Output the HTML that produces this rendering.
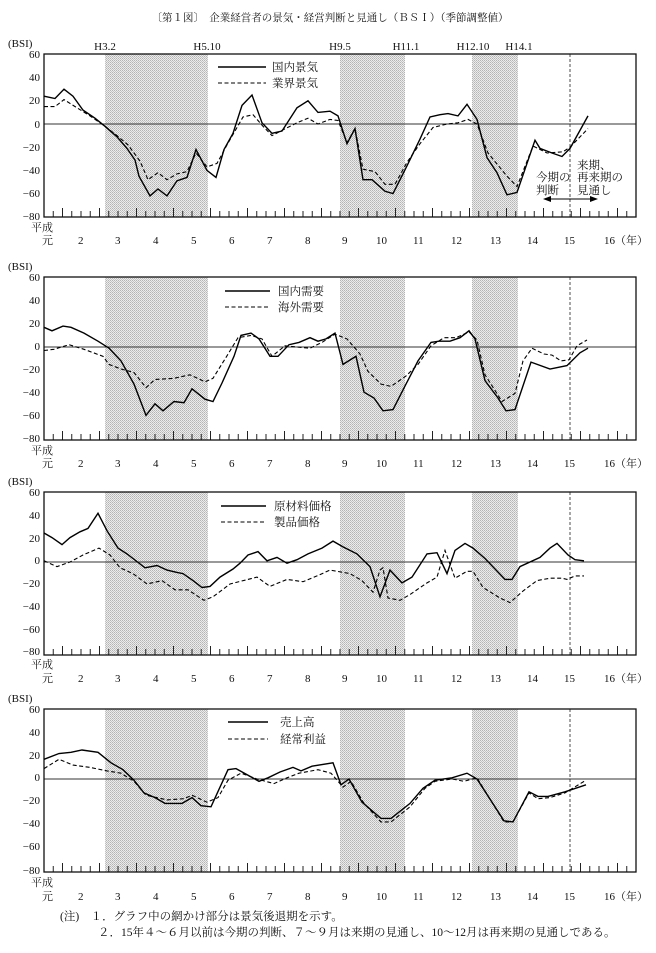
<!DOCTYPE html>
<html><head><meta charset="utf-8"><style>
body{margin:0;background:#fff;}
svg{display:block;font-family:"Liberation Serif","Noto Serif CJK SC","Noto Sans CJK JP",serif;}
.t{font-size:11px;fill:#111;}
.y{font-size:11px;fill:#111;text-anchor:end;}
.c{font-size:11px;fill:#111;text-anchor:middle;}
</style></head><body>
<svg id="s" width="656" height="953" viewBox="0 0 656 953" xmlns="http://www.w3.org/2000/svg">
<defs><pattern id="dots" width="2" height="2" patternUnits="userSpaceOnUse"><rect width="2" height="2" fill="#ececec"/><rect width="1" height="1" fill="#b4b4b4"/><rect x="1" y="1" width="1" height="1" fill="#c4c4c4"/></pattern></defs>
<text x="330" y="21" class="c" style="font-size:10.5px">〔第１図〕　企業経営者の景気・経営判断と見通し（ＢＳＩ）（季節調整値）</text>
<g class="c" style="font-size:11px">
<text x="105" y="50">H3.2</text><text x="207" y="50">H5.10</text><text x="340" y="50">H9.5</text><text x="406" y="50">H11.1</text><text x="473" y="50">H12.10</text><text x="519" y="50">H14.1</text>
</g>
<g class="y">
<text x="40" y="58">60</text><text x="40" y="81">40</text><text x="40" y="104">20</text><text x="40" y="128">0</text><text x="40" y="151">−20</text><text x="40" y="174">−40</text><text x="40" y="197">−60</text><text x="40" y="220">−80</text>
<text x="40" y="281">60</text><text x="40" y="304">40</text><text x="40" y="327">20</text><text x="40" y="350">0</text><text x="40" y="373">−20</text><text x="40" y="396">−40</text><text x="40" y="419">−60</text><text x="40" y="442">−80</text>
<text x="40" y="496">60</text><text x="40" y="519">40</text><text x="40" y="542">20</text><text x="40" y="564">0</text><text x="40" y="587">−20</text><text x="40" y="610">−40</text><text x="40" y="633">−60</text><text x="40" y="655">−80</text>
<text x="40" y="713">60</text><text x="40" y="736">40</text><text x="40" y="759">20</text><text x="40" y="781">0</text><text x="40" y="804">−20</text><text x="40" y="827">−40</text><text x="40" y="850">−60</text><text x="40" y="874">−80</text>
</g>
<g class="t">
<text x="8" y="47">(BSI)</text><text x="8" y="270">(BSI)</text><text x="8" y="485">(BSI)</text><text x="8" y="702">(BSI)</text>
</g>
<g class="t">
<text x="31" y="231">平成</text><text x="31" y="454">平成</text><text x="31" y="668">平成</text><text x="31" y="886">平成</text>
</g>
<g class="t">
<text x="42" y="244">元</text><text x="78" y="244">2</text><text x="115" y="244">3</text><text x="153" y="244">4</text><text x="191" y="244">5</text><text x="229" y="244">6</text><text x="267" y="244">7</text><text x="305" y="244">8</text><text x="342" y="244">9</text><text x="376" y="244">10</text><text x="413" y="244">11</text><text x="451" y="244">12</text><text x="490" y="244">13</text><text x="527" y="244">14</text><text x="564" y="244">15</text><text x="604" y="244">16（年）</text>
<text x="42" y="467">元</text><text x="78" y="467">2</text><text x="115" y="467">3</text><text x="153" y="467">4</text><text x="191" y="467">5</text><text x="229" y="467">6</text><text x="267" y="467">7</text><text x="305" y="467">8</text><text x="342" y="467">9</text><text x="376" y="467">10</text><text x="413" y="467">11</text><text x="451" y="467">12</text><text x="490" y="467">13</text><text x="527" y="467">14</text><text x="564" y="467">15</text><text x="604" y="467">16（年）</text>
<text x="42" y="682">元</text><text x="78" y="682">2</text><text x="115" y="682">3</text><text x="153" y="682">4</text><text x="191" y="682">5</text><text x="229" y="682">6</text><text x="267" y="682">7</text><text x="305" y="682">8</text><text x="342" y="682">9</text><text x="376" y="682">10</text><text x="413" y="682">11</text><text x="451" y="682">12</text><text x="490" y="682">13</text><text x="527" y="682">14</text><text x="564" y="682">15</text><text x="604" y="682">16（年）</text>
<text x="42" y="900">元</text><text x="78" y="900">2</text><text x="115" y="900">3</text><text x="153" y="900">4</text><text x="191" y="900">5</text><text x="229" y="900">6</text><text x="267" y="900">7</text><text x="305" y="900">8</text><text x="342" y="900">9</text><text x="376" y="900">10</text><text x="413" y="900">11</text><text x="451" y="900">12</text><text x="490" y="900">13</text><text x="527" y="900">14</text><text x="564" y="900">15</text><text x="604" y="900">16（年）</text>
</g>
<g class="t" style="font-size:11.5px">
<text x="272" y="71">国内景気</text><text x="272" y="87">業界景気</text>
<text x="278" y="295">国内需要</text><text x="278" y="311">海外需要</text>
<text x="274" y="510">原材料価格</text><text x="274" y="526">製品価格</text>
<text x="280" y="726">売上高</text><text x="280" y="743">経常利益</text>
<text x="577" y="169">来期、</text><text x="536" y="181">今期の</text><text x="577" y="181">再来期の</text><text x="536" y="194">判断</text><text x="577" y="194">見通し</text>
<text x="60" y="920">(注)　１．グラフ中の網かけ部分は景気後退期を示す。</text>
<text x="98" y="936">２．15年４～６月以前は今期の判断、７～９月は来期の見通し、10～12月は再来期の見通しである。</text>
</g>
</svg>
<script>
var S=document.getElementById('s'),NS='http://www.w3.org/2000/svg';
function el(n,a,p){var e=document.createElementNS(NS,n);for(var k in a)e.setAttribute(k,a[k]);(p||S).appendChild(e);return e;}
var tops=[54,277,492,709];
var data=[
[[44,24,55,22,64,30,73,24,83,12,95,5,105,-2,117,-11,127,-21,135,-31,139,-45,150,-62,158,-56,167,-62,177,-49,187,-46,196,-22,207,-40,216,-46,224,-22,233,-8,242,16,252,25,262,1,272,-8,282,-6,297,14,308,20,318,10,330,11,338,7,347,-17,355,-4,363,-48,372,-48,385,-58,393,-60,407,-36,420,-13,430,6,440,8,448,9,458,7,467,17,477,4,487,-29,497,-42,507,-61,517,-59,535,-14,540,-21,552,-25,562,-28,570,-21,588,7],
 [44,15,55,15,64,21,77,14,90,7,105,-2,117,-10,128,-18,140,-32,148,-48,158,-42,167,-48,177,-43,187,-41,196,-25,207,-37,217,-34,227,-18,237,-3,243,6,253,8,263,-2,272,-10,283,-5,297,1,308,5,318,0,330,4,338,3,347,-16,355,-4,363,-39,375,-41,385,-52,395,-52,407,-33,420,-17,433,-3,447,0,458,1,468,4,477,0,488,-25,507,-45,517,-54,533,-19,547,-25,563,-24,570,-20,588,-4]],
[[44,17,52,14,63,18,71,17,84,12,98,5,109,-1,121,-12,134,-32,146,-59,155,-49,163,-55,174,-47,184,-48,192,-36,205,-45,213,-47,222,-31,234,-8,241,10,251,12,259,7,270,-8,278,-8,289,2,299,4,310,8,318,5,326,7,335,12,343,-15,356,-8,364,-39,374,-44,383,-55,393,-54,406,-32,418,-12,431,4,439,5,450,5,460,8,469,14,475,7,485,-29,498,-44,506,-55,515,-54,531,-13,550,-19,567,-16,580,-5,588,-1],
 [44,-3,54,-2,69,2,84,-2,103,-8,109,-15,121,-19,134,-22,146,-35,155,-28,174,-27,190,-24,205,-30,213,-27,226,-9,238,8,251,10,262,7,272,-8,285,1,297,0,310,-1,322,4,335,11,347,7,360,-6,368,-21,381,-32,391,-34,406,-25,418,-15,431,1,444,8,456,8,469,13,477,6,485,-24,502,-47,515,-40,523,-12,532,-1,544,-6,552,-7,561,-12,569,-11,577,1,587,6]],
[[44,25,52,21,62,15,70,21,80,26,88,29,98,42,107,27,118,12,127,7,133,3,145,-5,157,-3,167,-7,177,-9,183,-10,193,-16,202,-22,210,-21,220,-13,233,-6,240,-1,248,6,258,9,267,1,277,4,287,-1,297,2,308,7,322,12,333,18,343,13,357,7,370,-4,380,-30,390,-7,402,-18,412,-13,427,7,437,8,447,-10,455,10,465,16,473,12,485,3,505,-15,512,-15,520,-4,540,4,550,12,557,16,568,6,575,2,584,1],
 [44,1,57,-4,70,0,83,6,99,12,110,6,120,-5,133,-10,147,-19,162,-16,175,-24,188,-24,204,-33,213,-30,230,-19,257,-13,270,-21,287,-15,303,-17,317,-12,330,-7,350,-10,362,-16,373,-26,380,-7,383,-5,388,-31,400,-33,410,-28,427,-18,437,-13,445,10,455,-14,467,-8,473,-8,483,-22,500,-31,510,-35,523,-25,537,-16,550,-14,562,-14,567,-15,575,-12,584,-12]],
[[44,17,59,22,71,23,82,25,98,23,111,14,123,8,134,-1,144,-12,155,-16,165,-21,182,-21,192,-16,201,-23,211,-24,228,8,236,9,259,-2,268,1,280,6,293,10,301,7,312,11,333,14,341,-5,349,0,362,-20,381,-34,391,-34,410,-21,423,-8,435,-1,452,1,467,5,477,0,504,-36,513,-37,529,-11,538,-15,548,-15,565,-11,586,-5],
 [44,9,59,17,73,12,90,10,107,7,121,5,134,-2,146,-14,167,-18,184,-17,192,-14,207,-20,218,-16,228,-1,241,5,257,0,274,-4,287,1,299,5,318,8,331,5,343,-7,351,-2,364,-21,381,-37,391,-37,410,-24,425,-8,435,-2,452,0,464,-2,477,1,504,-37,513,-37,529,-12,538,-17,550,-16,565,-12,586,-1]]
];
var legY=[[67,83,218,266],[291,307,225,270],[506,522,221,266],[722,739,228,268]];
for(var p=0;p<4;p++){
 var T=tops[p],Z=T+70,B=T+163,L=44,R=636;
 [[105,208],[340,405],[472,518]].forEach(function(s){el('rect',{x:s[0],y:T,width:s[1]-s[0],height:B-T,fill:'url(#dots)'});});
 el('line',{x1:L,y1:Z,x2:R,y2:Z,stroke:'#333','stroke-width':1});
 el('line',{x1:570,y1:T,x2:570,y2:B,stroke:'#222','stroke-width':0.8,'stroke-dasharray':'3,2'});
 for(var k=0;k<64;k++){var x=44+k*9.25;var h=(k%4==2)?9:6;el('line',{x1:x,y1:B,x2:x,y2:B-h,stroke:'#222','stroke-width':1});}
 el('rect',{x:L,y:T,width:R-L,height:B-T,fill:'none',stroke:'#111','stroke-width':1.3});
 for(var s=0;s<2;s++){var d=data[p][s],pts=[];for(var i=0;i<d.length;i+=2)pts.push(d[i]+','+(Z-d[i+1]*1.16).toFixed(1));
  var a={points:pts.join(' '),fill:'none',stroke:'#000','stroke-width':s?1.1:1.4};if(s)a['stroke-dasharray']='4,2.5';el('polyline',a);}
 var ly=legY[p];el('line',{x1:ly[2],y1:ly[0],x2:ly[3],y2:ly[0],stroke:'#000','stroke-width':1.4});
 el('line',{x1:ly[2],y1:ly[1],x2:ly[3],y2:ly[1],stroke:'#000','stroke-width':1.1,'stroke-dasharray':'4,2.5'});
}
el('line',{x1:545,y1:199,x2:596,y2:199,stroke:'#000','stroke-width':1});
el('polygon',{points:'543,199 551,196 551,202',fill:'#000'});el('polygon',{points:'598,199 590,196 590,202',fill:'#000'});
</script>
</body></html>
